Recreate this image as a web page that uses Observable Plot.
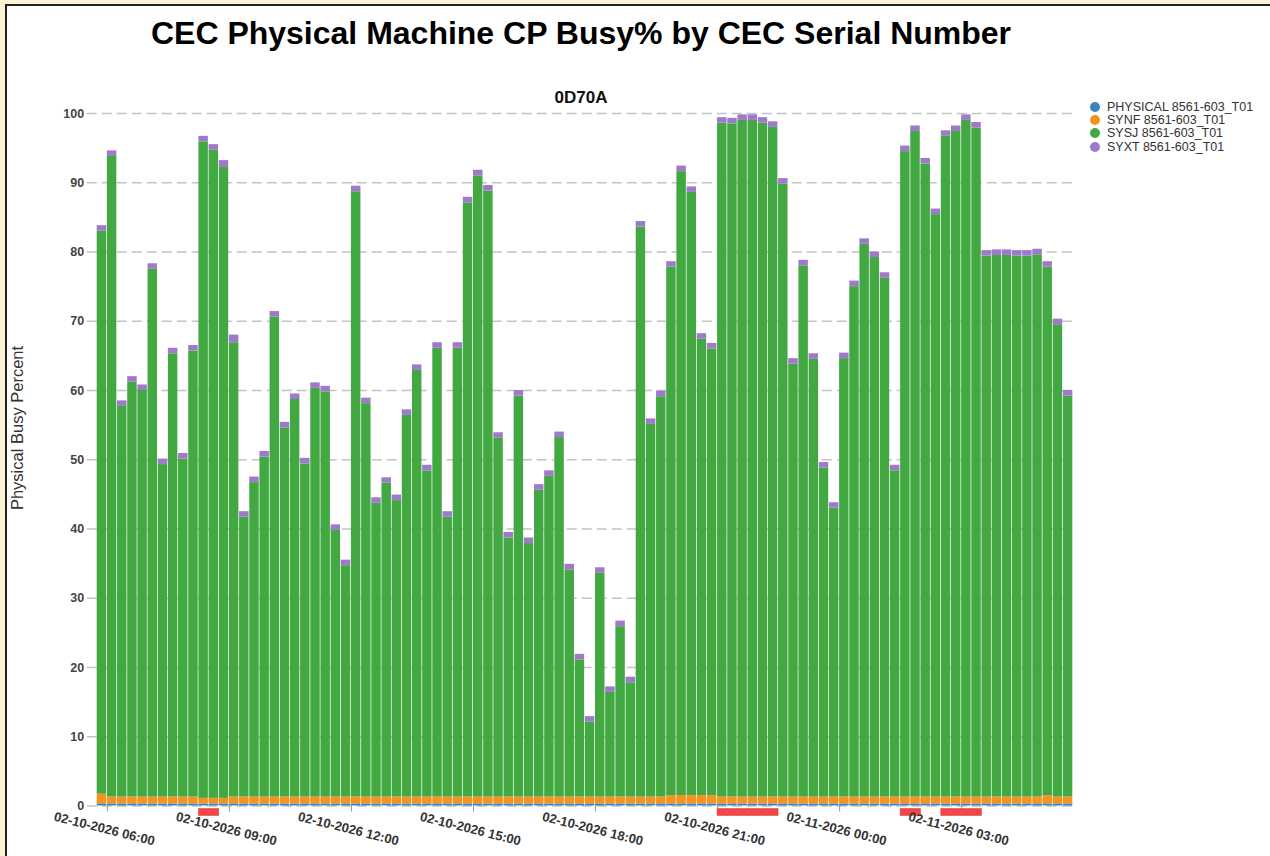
<!DOCTYPE html>
<html>
<head>
<meta charset="utf-8">
<script src="https://cdn.jsdelivr.net/npm/d3@7"></script>
<script src="https://cdn.jsdelivr.net/npm/@observablehq/plot@0.6"></script>
<style>
  html, body { margin: 0; padding: 0; background: #fbf3d3; }
  #page { position: relative; width: 1270px; height: 856px; overflow: hidden; font-family: "Liberation Sans", Arial, sans-serif; }
  #frame { position: absolute; left: 5px; top: 4px; right: 0; bottom: 0; background: #fff; border-left: 2px solid #222; border-top: 2px solid #222; }
  #title { position: absolute; left: 0; width: 1162px; top: 17px; text-align: center; font-size: 32px; line-height: 32px; font-weight: bold; color: #000; white-space: nowrap; }
  #subtitle { position: absolute; left: 0; width: 1162px; top: 89px; text-align: center; font-size: 17px; line-height: 17px; font-weight: bold; color: #111; }
  #ylabel { position: absolute; left: 17px; top: 428px; transform: translate(-50%, -50%) rotate(-90deg); font-size: 16.5px; color: #333; white-space: nowrap; }
  #chart { position: absolute; left: 0; top: 60px; }
  #legend { position: absolute; left: 1090px; top: 100px; font-size: 12.5px; color: #333; }
  #legend .row { display: flex; align-items: center; height: 13.3px; white-space: nowrap; }
  #legend .dot { width: 10px; height: 10px; border-radius: 50%; margin-right: 7px; flex: none; }
</style>
</head>
<body>
<div id="page">
  <div id="frame"></div>
  <div id="title">CEC Physical Machine CP Busy% by CEC Serial Number</div>
  <div id="subtitle">0D70A</div>
  <div id="ylabel">Physical Busy Percent</div>
  <div id="chart"></div>
  <div id="legend"></div>
</div>
<script>
// ---- data ----
const seriesNames = ["PHYSICAL 8561-603_T01", "SYNF 8561-603_T01", "SYSJ 8561-603_T01", "SYXT 8561-603_T01"];
const seriesColors = ["#3a83c4", "#f7921f", "#42a942", "#a07aca"];

const startTime = new Date("2026-02-10T05:45:00Z");
const endTime = new Date("2026-02-11T05:45:00Z");

const physical = [
  0.3, 0.3, 0.3, 0.3, 0.3, 0.3, 0.3, 0.3, 0.3, 0.3, 0.3, 0.3,
  0.3, 0.3, 0.3, 0.3, 0.3, 0.3, 0.3, 0.3, 0.3, 0.3, 0.3, 0.3,
  0.3, 0.3, 0.3, 0.3, 0.3, 0.3, 0.3, 0.3, 0.3, 0.3, 0.3, 0.3,
  0.3, 0.3, 0.3, 0.3, 0.3, 0.3, 0.3, 0.3, 0.3, 0.3, 0.3, 0.3,
  0.3, 0.3, 0.3, 0.3, 0.3, 0.3, 0.3, 0.3, 0.3, 0.3, 0.3, 0.3,
  0.3, 0.3, 0.3, 0.3, 0.3, 0.3, 0.3, 0.3, 0.3, 0.3, 0.3, 0.3,
  0.3, 0.3, 0.3, 0.3, 0.3, 0.3, 0.3, 0.3, 0.3, 0.3, 0.3, 0.3,
  0.3, 0.3, 0.3, 0.3, 0.3, 0.3, 0.3, 0.3, 0.3, 0.3, 0.3, 0.3
];
const synf = [
  1.4, 1.0, 1.0, 1.0, 1.0, 1.0, 1.0, 1.0, 1.0, 1.0, 0.8, 0.8,
  0.8, 1.0, 1.0, 1.0, 1.0, 1.0, 1.0, 1.0, 1.0, 1.0, 1.0, 1.0,
  1.0, 1.0, 1.0, 1.0, 1.0, 1.0, 1.0, 1.0, 1.0, 1.0, 1.0, 1.0,
  1.0, 1.0, 1.0, 1.0, 1.0, 1.0, 1.0, 1.0, 1.0, 1.0, 1.0, 1.0,
  1.0, 1.0, 1.0, 1.0, 1.0, 1.0, 1.0, 1.0, 1.2, 1.2, 1.2, 1.2,
  1.2, 1.0, 1.0, 1.0, 1.0, 1.0, 1.0, 1.0, 1.0, 1.0, 1.0, 1.0,
  1.0, 1.0, 1.0, 1.0, 1.0, 1.0, 1.0, 1.0, 1.0, 1.0, 1.0, 1.0,
  1.0, 1.0, 1.0, 1.0, 1.0, 1.0, 1.0, 1.0, 1.0, 1.2, 1.0, 1.0
];
const sysj = [
  81.3, 92.5, 56.4, 59.9, 58.7, 76.2, 48.0, 64.0, 48.8, 64.4, 94.8, 93.6,
  91.1, 65.6, 40.4, 45.4, 49.1, 69.3, 53.3, 57.4, 48.1, 59.0, 58.5, 38.5,
  33.4, 87.4, 56.8, 42.4, 45.3, 42.8, 55.1, 61.6, 47.1, 64.8, 40.4, 64.8,
  85.8, 89.7, 87.5, 51.8, 37.4, 57.9, 36.6, 44.3, 46.3, 51.9, 32.8, 19.8,
  10.8, 32.3, 15.1, 24.6, 16.5, 82.3, 53.8, 57.8, 76.3, 90.1, 87.1, 65.9,
  64.5, 97.3, 97.2, 97.7, 97.7, 97.3, 96.7, 88.5, 62.5, 76.7, 63.2, 47.5,
  41.7, 63.3, 73.7, 79.8, 77.9, 74.9, 47.1, 93.2, 96.1, 91.4, 84.1, 95.4,
  96.1, 97.7, 96.6, 78.1, 78.2, 78.2, 78.1, 78.1, 78.3, 76.3, 68.2, 57.9
];
const syxt = [
  0.8, 0.8, 0.8, 0.8, 0.8, 0.8, 0.8, 0.8, 0.8, 0.8, 0.8, 0.8,
  1.0, 1.1, 0.8, 0.8, 0.8, 0.8, 0.8, 0.8, 0.8, 0.8, 0.8, 0.8,
  0.8, 0.8, 0.8, 0.8, 0.8, 0.8, 0.8, 0.8, 0.8, 0.8, 0.8, 0.8,
  0.8, 0.8, 0.8, 0.8, 0.8, 0.8, 0.8, 0.8, 0.8, 0.8, 0.8, 0.8,
  0.8, 0.8, 0.8, 0.8, 0.8, 0.8, 0.8, 0.8, 0.8, 0.8, 0.8, 0.8,
  0.8, 0.8, 0.8, 0.8, 0.8, 0.8, 0.8, 0.8, 0.8, 0.8, 0.8, 0.8,
  0.8, 0.8, 0.8, 0.8, 0.8, 0.8, 0.8, 0.8, 0.8, 0.8, 0.8, 0.8,
  0.8, 0.8, 0.8, 0.8, 0.8, 0.8, 0.8, 0.8, 0.8, 0.8, 0.8, 0.8
];

// intervals flagged in red below the axis (interval start times)
const alertTimes = [
  "2026-02-10T08:15:00Z", "2026-02-10T08:30:00Z",
  "2026-02-10T21:00:00Z", "2026-02-10T21:15:00Z", "2026-02-10T21:30:00Z",
  "2026-02-10T21:45:00Z", "2026-02-10T22:00:00Z", "2026-02-10T22:15:00Z",
  "2026-02-11T01:30:00Z", "2026-02-11T01:45:00Z",
  "2026-02-11T02:30:00Z", "2026-02-11T02:45:00Z", "2026-02-11T03:00:00Z", "2026-02-11T03:15:00Z"
].map(s => new Date(s));

const yTicks = [0, 10, 20, 30, 40, 50, 60, 70, 80, 90, 100];
const xTickTimes = [
  "2026-02-10T06:00:00Z", "2026-02-10T09:00:00Z", "2026-02-10T12:00:00Z", "2026-02-10T15:00:00Z",
  "2026-02-10T18:00:00Z", "2026-02-10T21:00:00Z", "2026-02-11T00:00:00Z", "2026-02-11T03:00:00Z"
].map(s => new Date(s));
const xTickLabels = [
  "02-10-2026 06:00", "02-10-2026 09:00", "02-10-2026 12:00", "02-10-2026 15:00",
  "02-10-2026 18:00", "02-10-2026 21:00", "02-11-2026 00:00", "02-11-2026 03:00"
];

// ---- build table ----
const step = d3.utcMinute.every(15);
const times = step.range(startTime, endTime);
const seriesValues = [physical, synf, sysj, syxt];
const rows = [];
times.forEach((t, i) => {
  seriesValues.forEach((arr, k) => rows.push({time: t, series: seriesNames[k], value: arr[i]}));
});

const fontFamily = '"Liberation Sans", Arial, sans-serif';

const chart = Plot.plot({
  width: 1085,
  height: 796,
  marginLeft: 96.7,
  marginRight: 12,
  marginTop: 53,
  marginBottom: 50.5,
  style: {background: "transparent", fontFamily, overflow: "visible"},
  x: {type: "utc", domain: [startTime, endTime]},
  y: {domain: [0, 100]},
  color: {domain: seriesNames, range: seriesColors},
  marks: [
    Plot.ruleY(yTicks, {stroke: "#c4c4c4", strokeWidth: 1.5, strokeDasharray: "10,5", insetLeft: -10, insetRight: -2}),
    Plot.axisY({ticks: yTicks, tickSize: 0, tickPadding: 13, fontSize: 12.5, fontWeight: "bold", fill: "#444", label: null}),
    Plot.axisX({ticks: xTickTimes, tickSize: 6, tickFormat: () => "", stroke: "#999", label: null}),
    Plot.rectY(rows, {x: "time", interval: step, y: "value", fill: "series", insetLeft: 0, insetRight: 0.7}),
    Plot.rectY(alertTimes, {x: d => d, interval: step, y1: 0, y2: 0, insetLeft: 0, insetRight: 0, insetTop: 3, insetBottom: -10, fill: "#ef4747", stroke: "#ef4747", strokeWidth: 0.6}),
    Plot.text(xTickTimes, {
      x: d => d, frameAnchor: "bottom", dy: 27, dx: -4, rotate: 14,
      text: (d, i) => xTickLabels[i], fontSize: 13, fontWeight: "bold", fill: "#333"
    })
  ]
});
document.getElementById("chart").appendChild(chart);

// ---- legend ----
const legend = document.getElementById("legend");
seriesNames.forEach((name, k) => {
  const row = document.createElement("div");
  row.className = "row";
  const dot = document.createElement("span");
  dot.className = "dot";
  dot.style.background = seriesColors[k];
  const label = document.createElement("span");
  label.textContent = name;
  row.appendChild(dot);
  row.appendChild(label);
  legend.appendChild(row);
});
</script>
</body>
</html>
